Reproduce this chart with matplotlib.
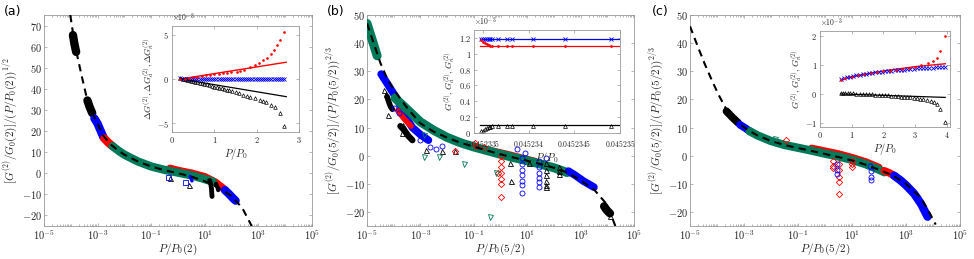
import numpy as np
import matplotlib
matplotlib.use("Agg")
import matplotlib.pyplot as plt
from matplotlib.ticker import FixedLocator, FixedFormatter, NullFormatter

plt.rcParams['mathtext.fontset'] = 'cm'
plt.rcParams['font.family'] = ['DejaVu Sans']

BLACK = '#000000'
BLUE = '#0000ff'
RED = '#ff0000'
GREEN = '#007a58'
SPINE = '#9a9a9a'
TXT = '#262626'

# ---------------- Panel (a) data ----------------
a_curve_lx = [-4.02, -3.9, -3.8, -3.6, -3.4, -3.2, -3.0, -2.8, -2.5, -2.2, -2.0, -1.5, -1.0, -0.5, 0.0, 0.5, 1.0, 1.5, 2.0, 2.4, 2.75]
a_curve_y = [75, 65, 58, 46.5, 35.5, 28.5, 23.5, 18, 13.5, 10.5, 8.8, 5.6, 3.2, 1.4, 0.0, -1.6, -3.8, -6.8, -10.8, -16.5, -25]
a_black1_lx = [-3.92, -3.86, -3.80]
a_black1_y = [65.5, 61.0, 57.5]
a_black2_lx = [-3.38, -3.30, -3.20]
a_black2_y = [34.5, 31.5, 28.5]
a_blue1_lx = [-3.12, -3.0, -2.9, -2.78]
a_blue1_y = [26.0, 23.5, 20.5, 17.0]
a_red1_lx = [-2.75, -2.6, -2.44]
a_red1_y = [16.5, 14.5, 12.8]
a_green_lx = [-2.44, -2.2, -2.0, -1.5, -1.0, -0.5, 0.0, 0.5, 1.0, 1.3]
a_green_y = [12.8, 10.5, 8.8, 5.6, 3.2, 1.6, 0.3, -1.0, -2.8, -4.0]
a_red2_lx = [-0.3, 0.0, 0.5, 1.0, 1.4, 1.75]
a_red2_y = [2.3, 1.3, 0.0, -1.7, -4.3, -7.8]
a_blue2_lx = [1.75, 1.9, 2.05, 2.15]
a_blue2_y = [-8.0, -9.8, -11.8, -13.0]
a_hook_black_lx = [1.18, 1.23, 1.25, 1.26, 1.27]
a_hook_black_y = [-3.5, -5.5, -7.5, -9.5, -11.0]
a_hook2_lx = [1.42, 1.47, 1.5]
a_hook2_y = [-5.0, -6.5, -8.0]
a_hook3_lx = [0.45, 0.5, 0.52]
a_hook3_y = [-1.5, -2.8, -3.6]
a_tri_lx = [-0.30, 0.41]
a_tri_y = [-2.1, -5.8]
a_sq_lx = [-0.36, 0.26]
a_sq_y = [-1.6, -4.0]

# inset (a)
ai_red_line_x = [0.2, 2.7]
ai_red_line_y = [0.0, 1.9]
ai_black_line_x = [0.2, 2.7]
ai_black_line_y = [0.0, -2.0]
ai_red_dot_x = [0.2, 0.3, 0.4, 0.5, 0.6, 0.7, 0.8, 0.9, 1.0, 1.1, 1.2, 1.3, 1.4, 1.53, 1.6, 1.7, 1.84, 1.95, 2.05, 2.15, 2.25, 2.35, 2.42, 2.47, 2.55, 2.64]
ai_red_dot_y = [0.0, 0.05, 0.1, 0.18, 0.25, 0.32, 0.4, 0.47, 0.55, 0.6, 0.65, 0.7, 0.75, 0.8, 0.95, 1.05, 1.35, 1.6, 1.85, 2.1, 2.4, 2.8, 3.3, 3.9, 4.4, 5.3]
ai_blue_x = [0.2, 0.25, 0.3, 0.35, 0.4, 0.45, 0.5, 0.55, 0.6, 0.65, 0.7, 0.75, 0.8, 0.85, 0.9, 0.95, 1.0, 1.05, 1.1, 1.15, 1.2, 1.25, 1.3, 1.35, 1.4, 1.45, 1.5, 1.55, 1.6, 1.65, 1.7, 1.75, 1.8, 1.85, 1.9, 1.95, 2.0, 2.05, 2.1, 2.15, 2.2, 2.25, 2.3, 2.35, 2.4, 2.45, 2.5, 2.55, 2.6, 2.65]
ai_blue_y = [0.08, 0.05, 0.03, 0.02, 0.01, 0.0, 0.0, 0.0, 0.0, 0.0, 0.0, 0.0, 0.0, 0.0, 0.0, 0.0, 0.0, 0.0, 0.0, 0.0, 0.0, 0.0, 0.0, 0.0, 0.0, 0.0, 0.0, 0.0, 0.0, 0.0, 0.0, 0.0, 0.0, 0.0, 0.0, 0.0, 0.0, 0.0, 0.0, 0.0, 0.0, 0.0, 0.0, 0.0, 0.0, 0.0, 0.0, 0.0, 0.0, 0.0]
ai_tri_x = [0.2, 0.25, 0.3, 0.35, 0.4, 0.45, 0.5, 0.55, 0.6, 0.65, 0.7, 0.76, 0.82, 0.88, 0.94, 1.0, 1.06, 1.12, 1.18, 1.24, 1.29, 1.35, 1.42, 1.5, 1.58, 1.67, 1.76, 1.85, 1.95, 2.07, 2.15, 2.23, 2.35, 2.43, 2.54, 2.64]
ai_tri_y = [0.15, 0.05, 0.0, -0.07, -0.13, -0.18, -0.24, -0.3, -0.36, -0.42, -0.48, -0.55, -0.62, -0.7, -0.77, -0.85, -0.92, -1.0, -1.07, -1.14, -1.2, -1.28, -1.38, -1.5, -1.62, -1.76, -1.93, -2.05, -2.2, -2.35, -2.5, -2.66, -2.9, -3.2, -3.9, -5.3]

# ---------------- Panel (b) data ----------------
b_curve_lx = [-5.0, -4.75, -4.5, -4.25, -4.0, -3.5, -3.0, -2.5, -2.0, -1.5, -1.0, -0.5, 0.0, 0.5, 1.0, 1.5, 2.0, 2.5, 3.0, 3.5, 4.0, 4.3]
b_curve_y = [47, 40, 33, 27.5, 23.5, 17.0, 11.5, 8.5, 6.4, 4.6, 3.2, 1.8, 0.5, -0.7, -1.8, -3.0, -4.3, -6.0, -8.8, -12.0, -17.5, -25]
b_green1_lx = [-5.0, -4.8, -4.62]
b_green1_y = [47, 41, 35.5]
b_blue1_lx = [-4.47, -4.3, -4.1, -3.9, -3.7, -3.5, -3.3, -3.0, -2.7]
b_blue1_y = [29, 26.5, 23.5, 20.5, 17.0, 13.0, 10.0, 7.5, 5.5]
b_black_band_lx = [-3.75, -3.6, -3.45, -3.3]
b_black_band_y = [10.5, 9.0, 7.0, 5.5]
b_black_hook_lx = [-4.25, -4.18, -4.12, -4.05]
b_black_hook_y = [21.0, 19.0, 17.5, 16.5]
b_red_band_lx = [-3.85, -3.6, -3.35]
b_red_band_y = [16.0, 13.0, 10.5]
b_green2_lx = [-3.95, -3.5, -3.0, -2.5, -2.0, -1.5, -1.0, -0.5, 0.0, 0.5, 1.0, 1.5, 2.0, 2.5]
b_green2_y = [20.5, 16.5, 12.0, 9.0, 6.5, 4.6, 3.1, 1.8, 0.5, -0.7, -1.8, -3.0, -4.3, -6.0]
b_red2_lx = [-0.8, -0.3, 0.3, 0.8, 1.3]
b_red2_y = [2.7, 1.7, 0.4, -0.8, -2.0]
b_blue2_lx = [2.55, 2.8, 3.1, 3.5]
b_blue2_y = [-5.5, -7.0, -9.0, -11.2]
b_black_end_lx = [3.88, 3.95, 4.02, 4.1]
b_black_end_y = [-18.0, -19.0, -19.8, -20.5]
b_col_red_lx = [0.0, 0.0, 0.0, 0.0, 0.0, 0.0, 0.0]
b_col_red_y = [0.0, -2.0, -4.0, -6.0, -8.3, -10.0, -14.7]
b_col_blue1_lx = [0.8, 0.8, 0.8, 0.8, 0.8, 0.8, 0.8]
b_col_blue1_y = [-1.0, -3.0, -5.0, -7.0, -9.0, -10.5, -13.2]
b_col_blue2_lx = [1.45, 1.45, 1.45, 1.45, 1.45, 1.45]
b_col_blue2_y = [-2.0, -4.0, -6.0, -8.0, -9.5, -11.0]
b_col_black1_lx = [1.72, 1.72, 1.72, 1.72, 1.72, 1.72]
b_col_black1_y = [-2.5, -5.0, -7.0, -9.0, -10.5, -11.3]
b_col_black2_lx = [2.2, 2.2, 2.2]
b_col_black2_y = [-4.0, -5.5, -6.5]
b_tri_lx = [-4.35, -4.3, -4.2, -3.7, -3.65, -2.8, -2.2, -1.7, 0.35, 0.4, 1.05, 4.1]
b_tri_y = [23.5, 22.0, 14.5, 8.0, 11.0, 2.0, 1.5, 1.5, -2.5, -9.0, -2.5, -21.3]
b_circ_lx = [-2.65, -2.4, -3.0, 0.6, 1.7, -4.0, -3.8, -2.2, 0.9]
b_circ_y = [3.0, 2.5, 5.5, 2.3, -1.0, 17.0, 15.0, 3.5, 1.0]
b_diam_lx = [-0.95, -0.9, -1.7, -0.1, -0.6]
b_diam_y = [4.5, 3.5, 1.5, -6.0, 3.0]
b_vtri_lx = [-2.85, -2.85, -2.3, -1.8, -1.35, -0.4, -0.15]
b_vtri_y = [7.5, -0.6, -0.5, 5.5, -2.8, -21.8, -6.3]

# inset (b)
bi_x = [0.04523348, 0.0452335, 0.04523352, 0.04523354, 0.04523356, 0.04523358, 0.0452336, 0.04523366, 0.04523376, 0.04523382, 0.04523405, 0.0452344, 0.0452349]
bi_blue = [1.19] * 13
bi_red = [1.18, 1.15, 1.13, 1.12, 1.11, 1.10, 1.10, 1.10, 1.10, 1.10, 1.10, 1.10, 1.10]
bi_black = [0.02, 0.03, 0.05, 0.06, 0.07, 0.08, 0.085, 0.09, 0.09, 0.09, 0.09, 0.09, 0.09]
bi_line_blue = 1.19
bi_line_red = 1.10
bi_line_black = 0.10

# ---------------- Panel (c) data ----------------
c_curve_lx = [-5.0, -4.7, -4.45, -4.2, -3.95, -3.65, -3.4, -3.1, -2.8, -2.5, -2.0, -1.5, -1.0, -0.5, 0.0, 0.5, 1.0, 1.5, 2.0, 2.5, 3.0, 3.5, 3.8, 4.1]
c_curve_y = [46, 38.5, 32.5, 27, 21.8, 16.4, 13.5, 10.8, 8.8, 7.2, 5.2, 3.8, 2.7, 1.7, 0.6, -0.5, -1.7, -3.2, -5.0, -7.0, -10.0, -14.5, -19.0, -24.5]
c_black_lx = [-3.65, -3.45, -3.22]
c_black_y = [15.8, 13.8, 11.7]
c_blue1_lx = [-3.15, -2.95, -2.79]
c_blue1_y = [11.0, 9.8, 8.7]
c_green_lx = [-2.79, -2.5, -2.0, -1.5, -1.0, -0.5, 0.0, 0.5, 1.0, 1.5, 2.0, 2.2]
c_green_y = [8.7, 7.2, 5.2, 3.8, 2.8, 1.8, 0.7, -0.3, -1.5, -3.0, -5.0, -5.9]
c_red1_lx = [-0.5, 0.0, 0.5, 1.0, 1.5, 2.0]
c_red1_y = [2.7, 1.7, 0.7, -0.6, -2.1, -4.1]
c_red2_lx = [2.2, 2.4, 2.56]
c_red2_y = [-5.4, -6.2, -7.1]
c_blue2_lx = [2.56, 2.8, 3.0, 3.3, 3.55, 3.8]
c_blue2_y = [-7.1, -8.8, -10.5, -13.5, -17.0, -21.7]
c_col_red_lx = [0.5, 0.5, 0.5, 0.5, 0.5]
c_col_red_y = [-3.0, -5.0, -7.7, -9.4, -13.8]
c_col_red2_lx = [0.3, 0.3, 0.3]
c_col_red2_y = [-2.0, -3.5, -4.5]
c_col_blue_lx = [0.45, 0.45, 0.45]
c_col_blue_y = [-3.0, -5.0, -6.5]
c_col_blue2_lx = [1.68, 1.7, 1.71, 1.71]
c_col_blue2_y = [-3.5, -5.5, -7.5, -8.8]
c_col_red3_lx = [1.0, 1.0, 1.0]
c_col_red3_y = [-2.0, -3.0, -4.0]
c_vtri_lx = [-1.86]
c_vtri_y = [5.8]
c_diam_lx = [-1.46]
c_diam_y = [5.5]

# inset (c)
ci_blue_x = [0.65, 0.75, 0.85, 0.95, 1.05, 1.15, 1.25, 1.35, 1.45, 1.55, 1.65, 1.75, 1.85, 1.95, 2.05, 2.15, 2.25, 2.35, 2.45, 2.55, 2.65, 2.75, 2.85, 2.95, 3.05, 3.15, 3.25, 3.35, 3.45, 3.55, 3.65, 3.75, 3.85, 3.95]
ci_blue_y = [0.52, 0.55, 0.58, 0.6, 0.63, 0.65, 0.67, 0.69, 0.71, 0.72, 0.74, 0.75, 0.77, 0.78, 0.79, 0.8, 0.81, 0.82, 0.83, 0.84, 0.85, 0.86, 0.87, 0.88, 0.89, 0.9, 0.9, 0.91, 0.92, 0.92, 0.93, 0.94, 0.94, 0.95]
ci_red_line_x = [0.65, 1.0, 2.0, 3.0, 3.95]
ci_red_line_y = [0.48, 0.6, 0.8, 0.95, 1.05]
ci_red_dot_x = [0.65, 0.8, 1.0, 1.2, 1.4, 1.6, 1.8, 2.0, 2.2, 2.4, 2.6, 2.8, 3.0, 3.2, 3.4, 3.55, 3.7, 3.8, 3.95]
ci_red_dot_y = [0.5, 0.55, 0.6, 0.66, 0.7, 0.73, 0.76, 0.79, 0.81, 0.84, 0.87, 0.9, 0.95, 1.0, 1.07, 1.15, 1.25, 1.5, 2.0]
ci_black_line_x = [0.65, 3.95]
ci_black_line_y = [0.0, -0.12]
ci_tri_x = [0.65, 0.72, 0.8, 0.88, 0.96, 1.05, 1.15, 1.25, 1.35, 1.45, 1.55, 1.65, 1.75, 1.85, 1.95, 2.05, 2.15, 2.25, 2.35, 2.45, 2.55, 2.65, 2.75, 2.85, 2.95, 3.05, 3.15, 3.25, 3.37, 3.5, 3.58, 3.7, 3.79, 3.95]
ci_tri_y = [0.02, 0.02, 0.02, 0.02, 0.02, 0.02, 0.01, 0.01, 0.0, 0.0, 0.0, -0.01, -0.02, -0.02, -0.03, -0.04, -0.05, -0.06, -0.07, -0.08, -0.09, -0.1, -0.11, -0.12, -0.14, -0.15, -0.17, -0.19, -0.21, -0.24, -0.28, -0.35, -0.52, -0.98]


def lx(v):
    return 10.0 ** np.asarray(v, dtype=float)


fig = plt.figure(figsize=(9.74, 2.59), dpi=100)
W, H = 974.0, 259.0


def frac(left, top, right, bottom):
    return [left / W, 1 - bottom / H, (right - left) / W, (bottom - top) / H]


def style_axes(ax, fs=7.5, pad=1.5):
    for s in ax.spines.values():
        s.set_color(SPINE)
        s.set_linewidth(0.6)
    ax.tick_params(which='both', direction='in', colors=SPINE, labelcolor=TXT,
                   labelsize=fs, top=True, right=True, width=0.5, pad=pad)
    ax.tick_params(which='major', length=2.5)
    ax.tick_params(which='minor', length=1.5)


def main_axes(rect, ylim, yticks, ylabel, xlabel, letter, letter_x):
    ax = fig.add_axes(frac(*rect))
    ax.set_xscale('log')
    ax.set_xlim(1e-5, 1e5)
    ax.set_ylim(*ylim)
    style_axes(ax)
    exps = [-5, -3, -1, 1, 3, 5]
    ax.xaxis.set_major_locator(FixedLocator([10.0 ** e for e in exps]))
    ax.xaxis.set_major_formatter(FixedFormatter([r'$10^{%d}$' % e for e in exps]))
    minors = []
    for e in range(-5, 5):
        for m in range(1, 10):
            v = m * 10.0 ** e
            if m == 1 and e in exps:
                continue
            minors.append(v)
    ax.xaxis.set_minor_locator(FixedLocator(minors))
    ax.xaxis.set_minor_formatter(NullFormatter())
    ax.set_yticks(yticks)
    ax.set_yticklabels([r'$%d$' % t for t in yticks])
    ax.set_ylabel(ylabel, fontsize=8, color=TXT, labelpad=1)
    ax.set_xlabel(xlabel, fontsize=8, color=TXT, labelpad=0)
    fig.text(letter_x / W, 1 - 11 / H, letter, fontsize=9, color='black', va='center', ha='left')
    return ax


def band(ax, lxs, ys, color, lw=5.5, z=3):
    ax.plot(lx(lxs), ys, color=color, lw=lw, solid_capstyle='round', solid_joinstyle='round', zorder=z)


def curve(ax, lxs, ys):
    ax.plot(lx(lxs), ys, color='black', lw=1.5, ls=(0, (3.5, 2.5)), zorder=6)


def mk(ax, lxs, ys, marker, color, ms=3.6, z=4):
    ax.plot(lx(lxs), ys, ls='none', marker=marker, mfc='none', mec=color, ms=ms, mew=0.6, zorder=z)


# ---------- (a) ----------
axa = main_axes((44, 15, 312, 226), (-25, 75), list(range(-20, 71, 10)),
                r'$[G^{(2)}/G_0(2)]/(P/P_0(2))^{1/2}$', r'$P/P_0(2)$', '(a)', 4)
band(axa, a_black1_lx, a_black1_y, BLACK, lw=6)
band(axa, a_black2_lx, a_black2_y, BLACK, lw=6)
band(axa, a_blue1_lx, a_blue1_y, BLUE, lw=6)
band(axa, a_red1_lx, a_red1_y, RED, lw=6)
band(axa, a_red2_lx, a_red2_y, RED, lw=5.5, z=2)
band(axa, a_green_lx, a_green_y, GREEN, lw=6)
band(axa, a_blue2_lx, a_blue2_y, BLUE, lw=6)
band(axa, a_hook_black_lx, a_hook_black_y, BLACK, lw=3.5)
band(axa, a_hook2_lx, a_hook2_y, BLACK, lw=3)
band(axa, a_hook3_lx, a_hook3_y, BLUE, lw=2.5)
mk(axa, a_tri_lx, a_tri_y, '^', BLACK)
mk(axa, a_sq_lx, a_sq_y, 's', BLUE)
curve(axa, a_curve_lx, a_curve_y)

# ---------- (b) ----------
axb = main_axes((367, 15, 634, 226), (-25, 50), list(range(-20, 51, 10)),
                r'$[G^{(2)}/G_0(5/2)]/(P/P_0(5/2))^{2/3}$', r'$P/P_0(5/2)$', '(b)', 327)
band(axb, b_green1_lx, b_green1_y, GREEN, lw=6.5)
band(axb, b_blue1_lx, b_blue1_y, BLUE, lw=5.5, z=2)
band(axb, b_black_band_lx, b_black_band_y, BLACK, lw=4.5, z=2)
band(axb, b_black_hook_lx, b_black_hook_y, BLACK, lw=4, z=2)
band(axb, b_red_band_lx, b_red_band_y, RED, lw=4, z=2)
band(axb, b_red2_lx, b_red2_y, RED, lw=5, z=2)
band(axb, b_green2_lx, b_green2_y, GREEN, lw=6.5)
band(axb, b_blue2_lx, b_blue2_y, BLUE, lw=5.5)
band(axb, b_black_end_lx, b_black_end_y, BLACK, lw=6)
mk(axb, b_col_red_lx, b_col_red_y, 'D', RED, ms=3.2)
mk(axb, b_col_blue1_lx, b_col_blue1_y, 'o', BLUE)
mk(axb, b_col_blue2_lx, b_col_blue2_y, 'o', BLUE)
mk(axb, b_col_black1_lx, b_col_black1_y, '^', BLACK)
mk(axb, b_col_black2_lx, b_col_black2_y, '^', BLACK)
mk(axb, b_tri_lx, b_tri_y, '^', BLACK)
mk(axb, b_circ_lx, b_circ_y, 'o', BLUE)
mk(axb, b_diam_lx, b_diam_y, 'D', RED, ms=3.2)
mk(axb, b_vtri_lx, b_vtri_y, 'v', GREEN)
curve(axb, b_curve_lx, b_curve_y)

# ---------- (c) ----------
axc = main_axes((690, 15, 960, 226), (-25, 50), list(range(-20, 51, 10)),
                r'$[G^{(2)}/G_0(5/2)]/(P/P_0(5/2))^{2/3}$', r'$P/P_0(5/2)$', '(c)', 652)
band(axc, c_black_lx, c_black_y, BLACK, lw=5.5)
band(axc, c_blue1_lx, c_blue1_y, BLUE, lw=5.5)
band(axc, c_red1_lx, c_red1_y, RED, lw=5, z=2)
band(axc, c_green_lx, c_green_y, GREEN, lw=6)
band(axc, c_red2_lx, c_red2_y, RED, lw=5.5)
band(axc, c_blue2_lx, c_blue2_y, BLUE, lw=6)
mk(axc, c_col_red_lx, c_col_red_y, 'D', RED, ms=3.2)
mk(axc, c_col_red2_lx, c_col_red2_y, 'D', RED, ms=3.2)
mk(axc, c_col_blue_lx, c_col_blue_y, 'o', BLUE)
mk(axc, c_col_blue2_lx, c_col_blue2_y, 'o', BLUE)
mk(axc, c_col_red3_lx, c_col_red3_y, 'D', RED, ms=3.2)
mk(axc, c_vtri_lx, c_vtri_y, 'v', GREEN)
mk(axc, c_diam_lx, c_diam_y, 'D', RED, ms=3.2)
curve(axc, c_curve_lx, c_curve_y)


# ---------- insets ----------
def inset(rect, xlim, ylim, xticks, xticklabels, yticks, yticklabels, ylabel, xfs=6, xpad=2):
    ax = fig.add_axes(frac(*rect))
    ax.set_xlim(*xlim)
    ax.set_ylim(*ylim)
    style_axes(ax, fs=6, pad=2)
    ax.tick_params(axis='x', labelsize=xfs, pad=xpad)
    ax.set_xticks(xticks)
    ax.set_xticklabels(xticklabels)
    ax.set_yticks(yticks)
    ax.set_yticklabels(yticklabels)
    ax.set_xlabel(r'$P/P_0$', fontsize=7.5, color=TXT, labelpad=1)
    ax.set_ylabel(ylabel, fontsize=6.5, color=TXT, labelpad=1)
    ax.text(0.0, 1.02, r'$\times10^{-3}$', transform=ax.transAxes, fontsize=5.5, color=TXT, va='bottom', ha='left')
    return ax


ia = inset((172, 26, 299, 132), (0, 3), (-6, 6), [0, 1, 2, 3], ['$0$', '$1$', '$2$', '$3$'],
           [-5, 0, 5], ['$-5$', '$0$', '$5$'],
           r'$\Delta G^{(2)}, \Delta G^{(2)}_a, \Delta G^{(2)}_n$')
ia.plot(ai_red_line_x, ai_red_line_y, color=RED, lw=1.0)
ia.plot(ai_black_line_x, ai_black_line_y, color=BLACK, lw=0.9)
ia.plot(ai_blue_x, ai_blue_y, ls='none', marker='x', color=BLUE, ms=2.5, mew=0.6)
ia.plot(ai_tri_x, ai_tri_y, ls='none', marker='^', mfc='none', mec=BLACK, ms=2.6, mew=0.5)
ia.plot(ai_red_dot_x, ai_red_dot_y, ls='none', marker='.', color=RED, ms=1.8)

ib = inset((474, 30, 620, 133), (0.0452334, 0.045235), (0, 1.3),
           [0.0452335, 0.045234, 0.0452345, 0.045235], ['$0.0452335$', '$0.045234$', '$0.0452345$', '$0.045235$'],
           [0, 0.2, 0.4, 0.6, 0.8, 1.0, 1.2], ['$0$', '$0.2$', '$0.4$', '$0.6$', '$0.8$', '$1$', '$1.2$'],
           r'$G^{(2)}, G^{(2)}_a, G^{(2)}_n$', xfs=5.5, xpad=3.5)
ib.axhline(bi_line_blue, xmin=0.04, xmax=0.99, color=BLUE, lw=0.9)
ib.axhline(bi_line_red, xmin=0.04, xmax=0.99, color=RED, lw=0.9)
ib.axhline(bi_line_black, xmin=0.04, xmax=0.99, color=BLACK, lw=0.9)
ib.plot(bi_x, bi_blue, ls='none', marker='x', color=BLUE, ms=2.5, mew=0.6)
ib.plot(bi_x, bi_red, ls='none', marker='.', color=RED, ms=2)
ib.plot(bi_x, bi_black, ls='none', marker='^', mfc='none', mec=BLACK, ms=2.8, mew=0.5)

ic = inset((820, 31, 950, 127), (0, 4.1), (-1.15, 2.19), [0, 1, 2, 3, 4], ['$0$', '$1$', '$2$', '$3$', '$4$'],
           [-1, 0, 1, 2], ['$-1$', '$0$', '$1$', '$2$'],
           r'$G^{(2)}, G^{(2)}_a, G^{(2)}_n$')
ic.plot(ci_red_line_x, ci_red_line_y, color=RED, lw=1.0)
ic.plot(ci_black_line_x, ci_black_line_y, color=BLACK, lw=0.9)
ic.plot(ci_blue_x, ci_blue_y, ls='none', marker='x', color=BLUE, ms=2.5, mew=0.6)
ic.plot(ci_red_dot_x, ci_red_dot_y, ls='none', marker='.', color=RED, ms=1.8)
ic.plot(ci_tri_x, ci_tri_y, ls='none', marker='^', mfc='none', mec=BLACK, ms=2.6, mew=0.5)

fig.savefig('out.png', dpi=100)
